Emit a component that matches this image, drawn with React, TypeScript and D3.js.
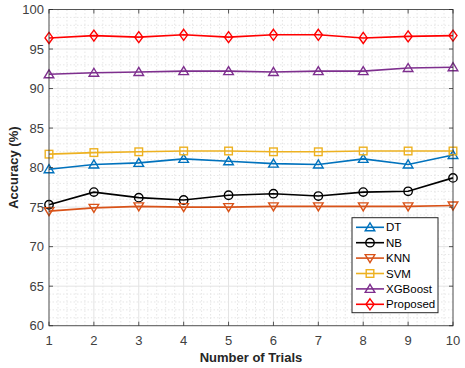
import * as d3 from "d3";

const trials = [1, 2, 3, 4, 5, 6, 7, 8, 9, 10];
const dtValues = [79.8, 80.4, 80.6, 81.1, 80.8, 80.5, 80.4, 81.1, 80.4, 81.6];
const nbValues = [75.3, 76.9, 76.2, 75.9, 76.5, 76.7, 76.4, 76.9, 77.0, 78.7];
const knnValues = [74.5, 74.9, 75.1, 75.0, 75.0, 75.1, 75.1, 75.1, 75.1, 75.2];
const svmValues = [81.7, 81.9, 82.0, 82.1, 82.1, 82.0, 82.0, 82.1, 82.1, 82.1];
const xgbValues = [91.8, 92.0, 92.1, 92.2, 92.2, 92.1, 92.2, 92.2, 92.6, 92.7];
const proposedValues = [96.4, 96.7, 96.5, 96.8, 96.5, 96.8, 96.8, 96.4, 96.6, 96.7];

const yTicks = [60, 65, 70, 75, 80, 85, 90, 95, 100];

const seriesNames = ["DT", "NB", "KNN", "SVM", "XGBoost", "Proposed"];
const seriesValues = [dtValues, nbValues, knnValues, svmValues, xgbValues, proposedValues];
const seriesColors = ["#0072BD", "#000000", "#D95319", "#EDB120", "#7E2F8E", "#FF0000"];
const seriesMarkers = ["triangleUp", "circle", "triangleDown", "square", "triangleUp", "diamond"];

const width = 465;
const height = 368;
const margin = { top: 9.5, right: 12, bottom: 42.3, left: 49 };
const innerW = width - margin.left - margin.right;
const innerH = height - margin.top - margin.bottom;

const x = d3.scaleLinear().domain([1, 10]).range([0, innerW]);
const y = d3.scaleLinear().domain([60, 100]).range([innerH, 0]);

const axisColor = "#262626";
const font = "'Liberation Sans', Arial, Helvetica, sans-serif";

function Marker({ type, cx, cy, color }: { type: string; cx: number; cy: number; color: string }) {
  const common = { fill: "none", stroke: color, strokeWidth: 1.4 };
  if (type === "circle") return <circle cx={cx} cy={cy} r={4.2} {...common} />;
  if (type === "square") return <rect x={cx - 3.8} y={cy - 3.8} width={7.6} height={7.6} {...common} />;
  if (type === "diamond")
    return <path d={`M${cx},${cy - 5.5}L${cx + 4},${cy}L${cx},${cy + 5.5}L${cx - 4},${cy}Z`} {...common} />;
  if (type === "triangleDown")
    return <path d={`M${cx - 4.8},${cy - 3.5}L${cx + 4.8},${cy - 3.5}L${cx},${cy + 4.5}Z`} {...common} />;
  return <path d={`M${cx - 4.8},${cy + 3.5}L${cx + 4.8},${cy + 3.5}L${cx},${cy - 4.5}Z`} {...common} />;
}

export default function App() {
  const line = d3
    .line<number>()
    .x((_, i) => x(trials[i]))
    .y((d) => y(d));

  const xMinor = d3.range(1, 10.001, 0.2).filter((v) => Math.abs(v - Math.round(v)) > 0.01);
  const yMinor = d3.range(60, 100, 1).filter((v) => v % 5 !== 0);

  const legend = { x: 352 - margin.left, y: 217.7 - margin.top, w: 86, h: 95 };

  return (
    <div style={{ position: "absolute", left: 0, top: 0 }}>
      <svg width={width} height={height} style={{ display: "block", background: "#fff" }}>
        <g transform={`translate(${margin.left},${margin.top})`}>
          {/* minor grid */}
          {xMinor.map((v) => (
            <line key={`xm${v}`} x1={x(v)} x2={x(v)} y1={0} y2={innerH} stroke="#e6e6e6" strokeWidth={1} strokeDasharray="1.5,2" />
          ))}
          {yMinor.map((v) => (
            <line key={`ym${v}`} x1={0} x2={innerW} y1={y(v)} y2={y(v)} stroke="#e6e6e6" strokeWidth={1} strokeDasharray="1.5,2" />
          ))}
          {/* major grid */}
          {trials.map((v) => (
            <line key={`xg${v}`} x1={x(v)} x2={x(v)} y1={0} y2={innerH} stroke="#e3e3e3" strokeWidth={1} />
          ))}
          {yTicks.map((v) => (
            <line key={`yg${v}`} x1={0} x2={innerW} y1={y(v)} y2={y(v)} stroke="#e3e3e3" strokeWidth={1} />
          ))}

          {/* series */}
          {seriesValues.map((vals, si) => (
            <g key={seriesNames[si]}>
              <path d={line(vals) ?? ""} fill="none" stroke={seriesColors[si]} strokeWidth={1.6} />
              {vals.map((v, i) => (
                <Marker key={i} type={seriesMarkers[si]} cx={x(trials[i])} cy={y(v)} color={seriesColors[si]} />
              ))}
            </g>
          ))}

          {/* axes box and ticks */}
          <rect x={0} y={0} width={innerW} height={innerH} fill="none" stroke={axisColor} strokeWidth={1} opacity={0.75} />
          {trials.map((v) => (
            <g key={`xt${v}`}>
              <line x1={x(v)} x2={x(v)} y1={innerH} y2={innerH - 4} stroke={axisColor} opacity={0.75} />
              <line x1={x(v)} x2={x(v)} y1={0} y2={4} stroke={axisColor} opacity={0.75} />
              <text x={x(v)} y={innerH + 19} textAnchor="middle" fontFamily={font} fontSize={13} fill="#404040">
                {v}
              </text>
            </g>
          ))}
          {yTicks.map((v) => (
            <g key={`yt${v}`}>
              <line x1={0} x2={4} y1={y(v)} y2={y(v)} stroke={axisColor} opacity={0.75} />
              <line x1={innerW} x2={innerW - 4} y1={y(v)} y2={y(v)} stroke={axisColor} opacity={0.75} />
              <text x={-5} y={y(v)} dy="0.36em" textAnchor="end" fontFamily={font} fontSize={13} fill="#404040">
                {v}
              </text>
            </g>
          ))}

          {/* axis titles */}
          <text x={innerW / 2} y={innerH + 36} textAnchor="middle" fontFamily={font} fontSize={13} fontWeight="bold" fill="#262626">
            Number of Trials
          </text>
          <text
            transform={`translate(${-margin.left + 13},${innerH / 2}) rotate(-90)`}
            dy="0.35em"
            textAnchor="middle"
            fontFamily={font}
            fontSize={13}
            fontWeight="bold"
            fill="#262626"
          >
            Accuracy (%)
          </text>

          {/* legend */}
          <g transform={`translate(${legend.x},${legend.y})`}>
            <rect x={0} y={0} width={legend.w} height={legend.h} fill="#fff" stroke="#262626" strokeWidth={1} opacity={1} />
            {seriesNames.map((name, i) => {
              const ly = 9.6 + i * 15.4;
              return (
                <g key={name}>
                  <line x1={4} x2={32} y1={ly} y2={ly} stroke={seriesColors[i]} strokeWidth={1.6} />
                  <Marker type={seriesMarkers[i]} cx={18} cy={ly} color={seriesColors[i]} />
                  <text x={34} y={ly} dy="0.36em" fontFamily={font} fontSize={11.5} fill="#000">
                    {name}
                  </text>
                </g>
              );
            })}
          </g>
        </g>
      </svg>
    </div>
  );
}
